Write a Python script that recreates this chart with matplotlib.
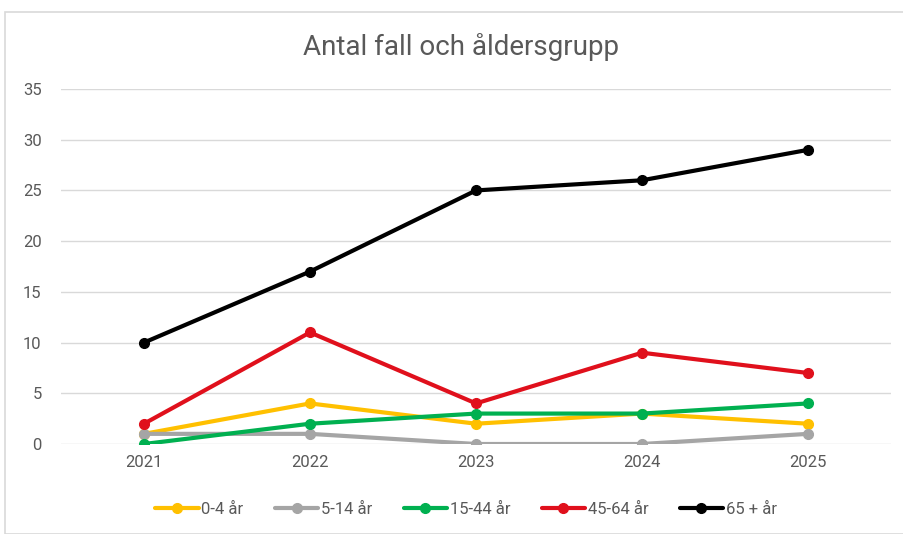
import matplotlib
matplotlib.use("Agg")
import matplotlib.pyplot as plt
from matplotlib.patches import Rectangle

plt.rcParams['font.family'] = ['Roboto', 'DejaVu Sans']

years = ["2021", "2022", "2023", "2024", "2025"]
labels = ["0-4 år", "5-14 år", "15-44 år", "45-64 år", "65 + år"]
colors = ["#FFC000", "#A5A5A5", "#00B050", "#E0101C", "#000000"]
v_0_4 = [1, 4, 2, 3, 2]
v_5_14 = [1, 1, 0, 0, 1]
v_15_44 = [0, 2, 3, 3, 4]
v_45_64 = [2, 11, 4, 9, 7]
v_65 = [10, 17, 25, 26, 29]
series = [v_0_4, v_5_14, v_15_44, v_45_64, v_65]

fig = plt.figure(figsize=(9.04, 5.34), dpi=100)
fig.patches.append(Rectangle((5 / 904, 0), 1, 1 - 12 / 534, transform=fig.transFigure,
                             fill=False, edgecolor="#D9D9D9", linewidth=1.2))
ax = fig.add_axes([61 / 904, 1 - 444 / 534, 830 / 904, 355 / 534])

x = range(len(years))
for vals, lab, col in zip(series, labels, colors):
    ax.plot(x, vals, color=col, linewidth=3.0, marker="o", markersize=7,
            label=lab, solid_capstyle="round")

ax.set_xlim(-0.5, 4.5)
ax.set_ylim(0, 35)
ax.set_yticks(range(0, 36, 5))
ax.set_xticks(list(x))
ax.set_xticklabels(years)
ax.yaxis.grid(True, color="#D9D9D9", linewidth=1)
ax.set_axisbelow(True)
for s in ax.spines.values():
    s.set_visible(False)
ax.tick_params(length=0, colors="#595959", labelsize=12)
ax.tick_params(axis="y", pad=14)
ax.tick_params(axis="x", pad=8)

fig.text(461 / 904, 1 - 47 / 534, "Antal fall och åldersgrupp", ha="center", va="center",
         fontsize=20, color="#595959")

fig.legend(loc="center", bbox_to_anchor=(466 / 904, 1 - 509 / 534), ncol=5, frameon=False,
           fontsize=12, labelcolor="#595959", handlelength=2.6, handletextpad=0.15,
           columnspacing=1.9)

fig.savefig("out.png", dpi=100)
